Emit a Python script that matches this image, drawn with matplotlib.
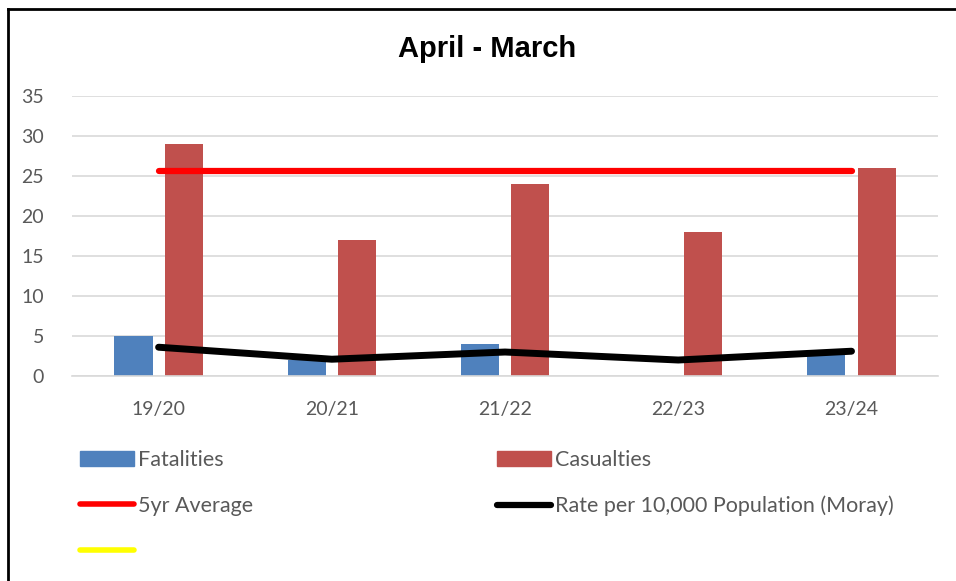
from matplotlib import pyplot as plt
from matplotlib.patches import Patch
from matplotlib.lines import Line2D
import numpy as np

years = ['19/20', '20/21', '21/22', '22/23', '23/24']
fatalities = [5, 2, 4, 0, 3]
casualties = [29, 17, 24, 18, 26]
five_yr_avg = [25.6, 25.6, 25.6, 25.6, 25.6]
rate = [3.6, 2.1, 3.0, 2.0, 3.1]

BLUE = '#4f81bd'
RED = '#c0504d'
TXT = '#595959'

plt.rcParams['font.family'] = ['Lato', 'DejaVu Sans']

fig = plt.figure(figsize=(9.56, 5.81), dpi=100)
ax = fig.add_axes([0.0753, 0.3528, 0.906, 0.482])

x = np.arange(len(years))
w = 0.22
ax.bar(x - 0.145, fatalities, w, color=BLUE, zorder=2)
ax.bar(x + 0.145, casualties, w, color=RED, zorder=2)
ax.plot(x, five_yr_avg, color='#ff0000', lw=4.5, solid_capstyle='round', zorder=3)
ax.plot(x, rate, color='black', lw=5, solid_capstyle='round', zorder=3)

ax.set_xlim(-0.5, 4.5)
ax.set_ylim(0, 35)
ax.set_yticks(range(0, 36, 5))
ax.set_xticks(x)
ax.set_xticklabels(years)
ax.tick_params(axis='both', length=0, labelsize=14, colors=TXT)
ax.tick_params(axis='x', pad=18)
ax.tick_params(axis='y', pad=20)
ax.yaxis.grid(True, color='#d9d9d9', lw=1.2, zorder=0)
for s in ['top', 'right', 'left']:
    ax.spines[s].set_visible(False)
ax.spines['bottom'].set_color('#d9d9d9')
ax.spines['bottom'].set_linewidth(1.2)

fig.text(0.51, 1 - 49 / 581, 'April - March', ha='center', va='center',
         fontsize=21, fontweight='bold', family='Liberation Sans')

h1 = [Patch(color=BLUE), Line2D([], [], color='#ff0000', lw=4, solid_capstyle='round'),
      Line2D([], [], color='#ffff00', lw=4, solid_capstyle='round')]
l1 = ['Fatalities', '5yr Average', '']
h2 = [Patch(color=RED), Line2D([], [], color='black', lw=4.5, solid_capstyle='round')]
l2 = ['Casualties', 'Rate per 10,000 Population (Moray)']
leg_kw = dict(loc='upper left', frameon=False, fontsize=15.5, handlelength=2.5,
              handleheight=0.65, handletextpad=0.2, labelspacing=1.2, borderpad=0,
              borderaxespad=0, labelcolor=TXT)
leg1 = fig.legend(h1, l1, bbox_to_anchor=(80 / 956, 1 - 450 / 581), **leg_kw)
leg2 = fig.legend(h2, l2, bbox_to_anchor=(497 / 956, 1 - 450 / 581), **leg_kw)

fig.add_artist(Line2D([7.5 / 956, 7.5 / 956], [0, 1 - 9 / 581], color='black', lw=2))
fig.add_artist(Line2D([7.5 / 956, 1], [1 - 9 / 581, 1 - 9 / 581], color='black', lw=2))

plt.savefig('out.png')
